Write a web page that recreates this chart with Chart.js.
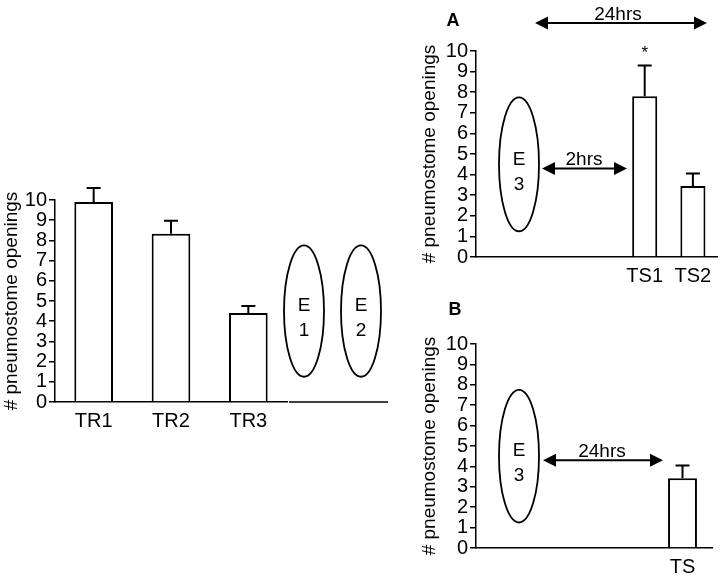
<!DOCTYPE html>
<html>
<head>
<meta charset="utf-8">
<script src="https://cdn.jsdelivr.net/npm/chart.js@4"></script>
<style>
  body { margin: 0; background: #fff; }
  #wrap { position: relative; width: 720px; height: 576px; }
  canvas { position: absolute; }
</style>
</head>
<body>
<div id="wrap">
  <canvas id="left" width="400" height="576" style="left:0;top:0"></canvas>
  <canvas id="chartA" width="320" height="290" style="left:400px;top:0"></canvas>
  <canvas id="chartB" width="320" height="286" style="left:400px;top:290px"></canvas>
</div>
<script>
// training sessions (left)
const trLabels = ['TR1', 'TR2', 'TR3'];
const trMeans = [9.9, 8.33, 4.4];
const trErrors = [0.7, 0.64, 0.35];

// panel A: test sessions
const tsALabels = ['', '', '', 'TS1', 'TS2'];
const tsAMeans = [null, null, null, 7.8, 3.45];
const tsAErrors = [0, 0, 0, 1.5, 0.6];
const tsAMarks = ['', '', '', '*', ''];

// panel B
const tsBLabels = ['', '', '', 'TS'];
const tsBMeans = [null, null, null, 3.42];
const tsBErrors = [0, 0, 0, 0.62];

const yMin = 0, yMax = 10, yStep = 1;

const FONT = '"Liberation Sans", Arial, Helvetica, sans-serif';
Chart.defaults.font.family = FONT;
Chart.defaults.color = '#000';

// error bars, ellipses, arrows and extra labels
const sketch = {
  id: 'sketch',
  afterDatasetsDraw(chart, args, opts) {
    const ctx = chart.ctx;
    const area = chart.chartArea;
    const y = chart.scales.y;
    const ds = chart.data.datasets[0];
    const meta = chart.getDatasetMeta(0);
    ctx.save();
    ctx.strokeStyle = '#000';
    ctx.fillStyle = '#000';
    ctx.lineWidth = 2;

    meta.data.forEach((bar, i) => {
      const v = ds.data[i];
      if (v == null) return;
      const top = y.getPixelForValue(v + opts.errors[i]);
      ctx.beginPath();
      ctx.moveTo(bar.x, bar.y);
      ctx.lineTo(bar.x, top);
      ctx.moveTo(bar.x - 7, top);
      ctx.lineTo(bar.x + 7, top);
      ctx.stroke();
      if (opts.marks && opts.marks[i]) {
        ctx.font = '17px ' + FONT;
        ctx.textAlign = 'center';
        ctx.textBaseline = 'middle';
        ctx.fillText(opts.marks[i], bar.x, top - 12);
      }
    });

    if (opts.baseline) {
      ctx.lineWidth = 1.5;
      ctx.beginPath();
      ctx.moveTo(area.right + 2, area.bottom);
      ctx.lineTo(opts.baseline, area.bottom);
      ctx.stroke();
    }

    (opts.ellipses || []).forEach(e => {
      const cy = y.getPixelForValue(4.5);
      const ry = Math.abs(y.getPixelForValue(7.75) - cy);
      ctx.lineWidth = 1.8;
      ctx.beginPath();
      ctx.ellipse(e.x, cy, 20, ry, 0, 0, Math.PI * 2);
      ctx.stroke();
      ctx.font = '19px ' + FONT;
      ctx.textAlign = 'center';
      ctx.textBaseline = 'middle';
      ctx.fillText('E', e.x, cy - 5);
      ctx.fillText(e.n, e.x, cy + 20);
    });

    (opts.arrows || []).forEach(a => {
      const ay = a.value != null ? y.getPixelForValue(a.value) : a.py;
      ctx.lineWidth = 2;
      ctx.beginPath();
      ctx.moveTo(a.x1 + 10, ay);
      ctx.lineTo(a.x2 - 10, ay);
      ctx.stroke();
      ctx.beginPath();
      ctx.moveTo(a.x1, ay);
      ctx.lineTo(a.x1 + 13, ay - 6.5);
      ctx.lineTo(a.x1 + 13, ay + 6.5);
      ctx.closePath();
      ctx.moveTo(a.x2, ay);
      ctx.lineTo(a.x2 - 13, ay - 6.5);
      ctx.lineTo(a.x2 - 13, ay + 6.5);
      ctx.closePath();
      ctx.fill();
      ctx.font = '19px ' + FONT;
      ctx.textAlign = 'center';
      ctx.textBaseline = 'alphabetic';
      ctx.fillText(a.label, a.lx, ay - 3);
    });

    if (opts.letter) {
      ctx.font = 'bold 18px ' + FONT;
      ctx.textAlign = 'center';
      ctx.textBaseline = 'middle';
      ctx.fillText(opts.letter.text, opts.letter.x, opts.letter.y);
    }
    ctx.restore();
  }
};

function makeChart(id, labels, means, barPct, pad, yWidth, xHeight, extra) {
  return new Chart(document.getElementById(id), {
    type: 'bar',
    data: {
      labels: labels,
      datasets: [{
        data: means,
        backgroundColor: '#fff',
        borderColor: '#000',
        borderWidth: 2,
        categoryPercentage: 1,
        barPercentage: barPct
      }]
    },
    options: {
      responsive: false,
      animation: false,
      layout: { padding: pad },
      plugins: { legend: { display: false }, tooltip: { enabled: false }, sketch: extra },
      scales: {
        x: {
          grid: { display: false, drawTicks: false },
          border: { display: true, color: '#000', width: 1.5 },
          ticks: { color: '#000', font: { size: 20 }, padding: 7, maxRotation: 0, autoSkip: false },
          afterFit(s) { s.height = xHeight; }
        },
        y: {
          min: yMin, max: yMax,
          ticks: { stepSize: yStep, color: '#000', font: { size: 20 }, padding: 2, autoSkip: false },
          grid: { drawOnChartArea: false, tickLength: 6, color: '#000', lineWidth: 1.5 },
          border: { display: true, color: '#000', width: 1.5 },
          title: { display: true, text: '# pneumostome openings', color: '#000', font: { size: 19 }, padding: { top: 0, bottom: 0 } },
          afterFit(s) { s.width = yWidth; }
        }
      }
    },
    plugins: [sketch]
  });
}

makeChart('left', trLabels, trMeans, 0.5,
  { left: 0, top: 200, right: 113, bottom: 134 }, 55, 40,
  { errors: trErrors, baseline: 388,
    ellipses: [{ x: 304, n: '1' }, { x: 361, n: '2' }] });

makeChart('chartA', tsALabels, tsAMeans, 0.52,
  { left: 18, top: 51, right: 3, bottom: 0 }, 58, 33,
  { errors: tsAErrors, marks: tsAMarks,
    ellipses: [{ x: 119, n: '3' }],
    arrows: [
      { x1: 142, x2: 227, value: 4.3, label: '2hrs', lx: 184 },
      { x1: 135, x2: 307, py: 23, label: '24hrs', lx: 218 }
    ],
    letter: { text: 'A', x: 53, y: 21 } });

makeChart('chartB', tsBLabels, tsBMeans, 0.49,
  { left: 18, top: 54, right: 8, bottom: 0 }, 58, 28,
  { errors: tsBErrors,
    ellipses: [{ x: 119, n: '3' }],
    arrows: [
      { x1: 143, x2: 263, value: 4.3, label: '24hrs', lx: 202 }
    ],
    letter: { text: 'B', x: 55, y: 20 } });
</script>
</body>
</html>
